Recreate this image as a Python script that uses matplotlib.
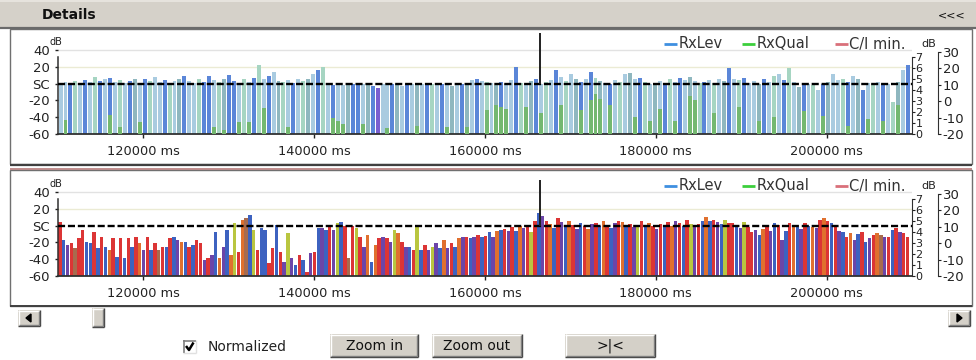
import numpy as np
import matplotlib
matplotlib.use("Agg")
import matplotlib.pyplot as plt
from matplotlib.patches import Rectangle, Polygon

plt.rcParams['font.family'] = ['DejaVu Sans']

W, H = 976, 360

# ---------------- data ----------------
x_min_ms, x_max_ms = 110000, 210000
x_ticks = [120000, 140000, 160000, 180000, 200000]
x_tick_labels = [f"{v} ms" for v in x_ticks]
left_ticks = [40, 20, 0, -20, -40, -60]
left_tick_labels = ["40", "20", "SC", "-20", "-40", "-60"]
qual_ticks = [0, 1, 2, 3, 4, 5, 6, 7]
db2_ticks = [30, 20, 10, 0, -10, -20]
sc_level = 0
cursor_ms = 166400
legend_names = ["RxLev", "RxQual", "C/I min."]
legend_colors = ["#3f8fe0", "#3ccf3c", "#d9707a"]

# upper panel: one level bar per sample, RxQual overlay bars (None = no sample)
top_t0_ms = 110300
top_step_ms = 580
top_rxlev = [
    0, 2, 1, 3, 1, 4, 2, 8, 3, 5,
    7, 2, 4, 1, 3, 5, 1, 6, 3, 8,
    2, 4, 1, 3, 6, 9, 3, 1, 5, 2,
    9, 4, 2, 6, 10, 3, 1, 5, 2, 7,
    22, 6, 9, 14, 3, 2, 4, 1, 6, 3,
    5, 11, 16, 20, 1, -2, -1, -2, 0, -1,
    -2, -1, 0, -3, -5, -1, -2, 0, -1, -3,
    -1, 0, -2, -1, 1, 0, -2, -1, 0, -3,
    1, 0, -2, 4, 6, 3, 2, 1, -2, 2,
    0, 4, 20, 1, -1, 3, 5, 0, 2, 4,
    16, 8, 3, 11, 5, 2, 6, 14, 7, 3,
    1, 0, 4, 2, 12, 13, 5, 7, 2, 0,
    -1, 3, 1, 6, 2, 7, 4, 8, 3, 1,
    2, 4, 1, 5, 3, 18, 6, 4, 7, 1,
    3, 0, 5, 2, 9, 12, 4, 19, 2, -4,
    1, 0, -2, -8, 0, 2, 12, 4, 6, 2,
    9, 5, -8, 1, -1, 2, -1, 0, -22, 2,
    16, 22,
]
top_rxlev_colors = (
    "LLBTLBLTBL" "BLTLBSLBTL" "LBTLSBLLTB" "BLTSBBLTLB" "TLBLSTLBLT"
    "SLBTLBLLSB" "BLSBPLLBSL" "BLSLBTLBLS" "LBSLBLTLSB" "LLBTLSBLTL"
    "BLTLSBLBTS" "LBLTLSLBTL" "SLBTLBLSLT" "BLTLSBLTBL" "LSBLTLBTLS"
    "BLTLBSLLTB" "LSBLTLBLTS" "LB"
)
N = None
top_rxqual = [
    N, -43, N, N, N, N, N, N, N, N,
    -37, N, -52, N, N, N, -46, N, N, N,
    N, N, N, N, N, N, N, N, N, N,
    N, -52, N, -55, N, N, -46, N, -46, N,
    N, -29, N, N, N, N, -52, N, N, N,
    N, N, N, N, N, -41, -44, -48, N, N,
    N, -48, N, N, N, N, -53, N, N, N,
    N, N, -50, N, N, N, N, N, -52, N,
    N, N, -52, N, N, N, -31, N, -25, -28,
    -30, N, N, N, -28, N, N, -35, N, N,
    N, -25, N, N, N, -31, N, -20, -12, -18,
    N, -25, N, N, N, N, -40, N, N, -45,
    N, -30, N, N, -45, N, N, -15, -20, N,
    N, N, -35, N, N, N, N, -28, N, N,
    N, -45, N, N, -40, N, N, N, N, N,
    -33, N, N, N, -38, N, N, N, N, -50,
    N, N, N, -42, N, N, -44, N, N, -25,
    N, N,
]

# lower panel: normalized values per sample
bot_t0_ms = 110230
bot_step_ms = 445
bot_values = [
    4, -17, -23, -21, -27, -15, -5, -19, -21, -8,
    -27, -14, -25, -29, -15, -37, -15, -39, -15, -25,
    -13, -21, -29, -13, -29, -21, -29, -25, -25, -15,
    -14, -17, -19, -19, -25, -23, -17, -21, -41, -39,
    -35, -8, -39, -25, -5, -35, 3, -32, 7, 9,
    13, -5, -29, -3, -5, -45, -27,
    1, -31, -43, -9, -38, -47, -35, -41, -55, -33,
    -31, -3, -3, -5, -1, -5, 3, 4, -1, -39,
    -1, -3, -14, -25, -11, -43, -23, -15, -14, -15,
    -19, -5, -9, -19, -26, -25, -29, -2, -29, -23,
    -29, -25, -21, -27, -17, -27, -21, -25, -15, -14,
    -14, -15, -14, -11, -14,
    -12, -8, -14, -6, -5, -4, -7,
    -2, -6, 0, -3, -1, -8,
    6, 15, 12, 5,
    2, -3, 9, 4, -2, 6, 1, -4, 3,
    -1, -4, 2, 3, 0, 5, 1, -3, 3, 6, 4, 0, 2, -2, 1, 5, 0, 3, -1, -4, 2,
    1, 4, 0, 6, 3, -1, 7, 2, 0,
    2, 5, 10, 5, 7, 4, 2, 7, 3, 3,
    0, -3, 4, -2, -8, -5, -11, -4, -2, -6,
    3, 1, -17, -6, 3, -1, -2, -4, 3, 0,
    -2, -3, 7, 9, 5, 3, -2, -6, -8, -14,
    -9, -17, -10, -8, -20, -15, -11, -9, -11, -14,
    -14, -5, -3, -8, -9, -14,
]
bot_colors = (
    "RBPRNRRBBR" "BRBORBRBRB" "ROPRBRNRBR" "BPOBRBRRPR" "PBOPBOYRON" "BYRBBRR"
    "BRPYPBRBRP" "RBPBRPYBRN" "RYRPOBORPR" "PYORPBRYBR" "PYPBOPRBOP" "RBPRB"
    "RBPOBRP" "RBOPRY" "RBPR" "OBRPBORPB" "ROPRBORBPROBRPYRBORPR" "BROPRBRYP"
    "RBOBRPBYRR" "BPYRRPBORP" "BRPBROBPRB" "OPRORBRPBR" "OPBRBPRONP" "RBRPRR"
)

top_palette = {"L": "#a9cbe0", "B": "#5b86d8", "T": "#a6d5c2", "S": "#8fb7bf", "P": "#7b5fd0"}
qual_color = "#74b870"
bot_palette = {"R": "#dc3535", "B": "#3d62c0", "P": "#6c45a8", "O": "#e0702e",
               "Y": "#b9c640", "N": "#a86b4e"}

# ---------------- figure ----------------
fig = plt.figure(figsize=(W / 100, H / 100), dpi=100)
fig.patch.set_facecolor("white")
bg = fig.add_axes([0, 0, 1, 1], zorder=0)
bg.set_xlim(0, W)
bg.set_ylim(H, 0)
bg.axis("off")


def frac_rect(x0, y0, x1, y1):
    return [x0 / W, 1 - y1 / H, (x1 - x0) / W, (y1 - y0) / H]


def rect(x0, y0, x1, y1, **kw):
    bg.add_patch(Rectangle((x0, y0), x1 - x0, y1 - y0, **kw))


def hline(y, x0, x1, color, lw=1.0):
    bg.plot([x0, x1], [y, y], color=color, lw=lw, solid_capstyle="butt")


def vline(x, y0, y1, color, lw=1.0):
    bg.plot([x, x], [y0, y1], color=color, lw=lw, solid_capstyle="butt")


def raised(x0, y0, x1, y1):
    rect(x0, y0, x1, y1, facecolor="#d4d0c8", edgecolor="none")
    hline(y0 + 0.5, x0, x1, "#ffffff")
    vline(x0 + 0.5, y0, y1, "#ffffff")
    hline(y1 - 0.5, x0, x1, "#404040")
    vline(x1 - 0.5, y0, y1, "#404040")
    hline(y1 - 1.5, x0 + 1, x1 - 1, "#808080")
    vline(x1 - 1.5, y0 + 1, y1 - 1, "#808080")


def button(x0, y0, x1, y1, label):
    raised(x0, y0, x1, y1)
    bg.text((x0 + x1) / 2, (y0 + y1) / 2 + 0.5, label, ha="center", va="center",
            fontsize=10, color="#111111")


# title bar
rect(0, 0, W, 27, facecolor="#d5d1c9", edgecolor="none")
hline(1, 0, W, "#e6e3dd", 1.5)
hline(27.5, 0, W, "#6a6a6a", 1.6)
bg.text(42, 15, "Details", fontsize=10, fontweight="bold", va="center", color="#101010")
bg.text(938, 15, "<<<", fontsize=8, va="center", color="#101010")

# panel frames
rect(10, 29, 972, 164, facecolor="white", edgecolor="#707070", lw=1)
hline(164.5, 10, 972, "#404040", 1.6)
hline(168.5, 10, 972, "#b57a7a", 1.2)
rect(10, 170, 972, 306, facecolor="white", edgecolor="#707070", lw=1)
hline(306, 10, 972, "#404040", 1.4)


def build_panel(y_base):
    ax = fig.add_axes(frac_rect(58, y_base - 104, 912, y_base), zorder=2)
    ax.patch.set_alpha(0)
    ax.set_xlim(x_min_ms, x_max_ms)
    ax.set_ylim(-60, -60 + 104 / 0.84)
    ax.axhline(40, color="#e2e2e2", lw=1, zorder=0)
    ax.axhline(20, color="#ebebd4", lw=1, zorder=0)
    ax.axhline(sc_level, color="black", lw=1.7, dashes=(3.0, 1.2), zorder=5)
    for s in ("top", "right"):
        ax.spines[s].set_visible(False)
    ax.spines["left"].set_bounds(-60, 32)
    ax.spines["left"].set_color("#303030")
    ax.spines["left"].set_linewidth(1.1)
    ax.spines["bottom"].set_color("#303030")
    ax.spines["bottom"].set_linewidth(1.3)
    ax.set_yticks(left_ticks)
    ax.set_yticklabels(left_tick_labels)
    ax.set_xticks(x_ticks)
    ax.set_xticklabels(x_tick_labels)
    ax.tick_params(axis="y", length=2.5, width=1, pad=3.5, labelsize=9.5, colors="#222222")
    ax.tick_params(axis="x", length=3, width=1, pad=5, labelsize=9.3, colors="#222222")

    q = ax.twinx()
    q.set_ylim(0, 104 / 11)
    for s in ("top", "left", "bottom"):
        q.spines[s].set_visible(False)
    q.spines["right"].set_bounds(0, 7)
    q.spines["right"].set_color("#303030")
    q.set_yticks(qual_ticks)
    q.set_yticklabels([str(v) for v in qual_ticks])
    q.tick_params(axis="y", length=2, pad=0.5, labelsize=8, colors="#222222")

    d = ax.twinx()
    d.set_ylim(-20, -20 + 104 / 1.64)
    for s in ("top", "left", "bottom"):
        d.spines[s].set_visible(False)
    d.spines["right"].set_position(("axes", (938 - 58) / 854))
    d.spines["right"].set_bounds(-20, 30)
    d.spines["right"].set_color("#303030")
    d.set_yticks(db2_ticks)
    d.set_yticklabels([str(v) for v in db2_ticks])
    d.tick_params(axis="y", length=2.5, pad=1, labelsize=9.5, colors="#222222")

    # legend and axis units
    ly = y_base - 90
    for (x_line, x_text), name, col in zip([(664, 679), (742, 757), (835, 849)],
                                           legend_names, legend_colors):
        hline(ly, x_line, x_line + 13, col, 2)
        bg.text(x_text, ly, name, fontsize=10.5, va="center", color="#333333")
    bg.text(49, y_base - 92, "dB", fontsize=7, va="center", color="#222222")
    bg.text(921, y_base - 90, "dB", fontsize=8, va="center", color="#222222")
    return ax


# upper panel
ax_top = build_panel(134)
t_top = top_t0_ms + top_step_ms * np.arange(len(top_rxlev))
lev = np.array(top_rxlev, dtype=float)
ax_top.bar(t_top, lev + 60, bottom=-60, width=top_step_ms * 0.8,
           color=[top_palette[c] for c in top_rxlev_colors], linewidth=0, zorder=2)
qual = np.array([np.nan if v is None else v for v in top_rxqual], dtype=float)
qmask = ~np.isnan(qual)
ax_top.bar(t_top[qmask], qual[qmask] + 60, bottom=-60, width=top_step_ms * 0.8,
           color=qual_color, linewidth=0, zorder=3)
ax_top.vlines(cursor_ms, 0, 60, color="#202020", lw=1.4, zorder=6)

# lower panel
ax_bot = build_panel(276)
t_bot = bot_t0_ms + bot_step_ms * np.arange(len(bot_values))
bv = np.array(bot_values, dtype=float)
ax_bot.bar(t_bot, bv + 60, bottom=-60, width=bot_step_ms * 0.9,
           color=[bot_palette[c] for c in bot_colors], linewidth=0, zorder=2)
ax_bot.vlines(cursor_ms, 0, 54, color="#202020", lw=1.4, zorder=6)

# scroll bar
raised(18, 310, 40, 326)
bg.add_patch(Polygon([[26, 318], [31, 314], [31, 322]], closed=True, color="black"))
raised(92, 308, 104, 327)
raised(948, 310, 970, 326)
bg.add_patch(Polygon([[962, 318], [957, 314], [957, 322]], closed=True, color="black"))

# controls
rect(183, 340, 196, 353, facecolor="white", edgecolor="none")
hline(340.5, 183, 196, "#808080", 1.2)
vline(183.5, 340, 353, "#808080", 1.2)
hline(352.5, 183, 196, "#e0e0e0", 1.0)
vline(195.5, 340, 353, "#e0e0e0", 1.0)
bg.plot([186, 189, 193.5], [346, 350, 342.5], color="black", lw=1.8, solid_capstyle="butt")
bg.text(208, 347, "Normalized", fontsize=10, va="center", color="#222222")
button(330, 334, 418, 357, "Zoom in")
button(432, 334, 522, 357, "Zoom out")
button(565, 334, 655, 357, ">|<")

fig.savefig("out.png", dpi=100, facecolor=fig.get_facecolor())
